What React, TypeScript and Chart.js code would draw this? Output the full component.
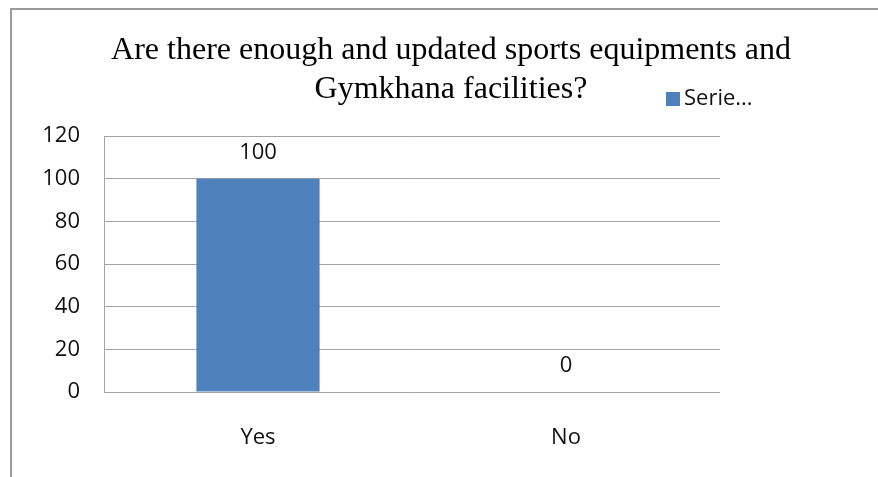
import React, { useEffect, useRef } from "react";
import { Chart, registerables } from "chart.js";

Chart.register(...registerables);

const titleLines = ["Are there enough and updated sports equipments and", "Gymkhana facilities?"];
const categories = ["Yes", "No"];
const seriesName = "Serie...";
const seriesValues = [100, 0];
const yTicks = [0, 20, 40, 60, 80, 100, 120];

const BAR_COLOR = "#4F81BD";
const GRID_COLOR = "#a3a3a3";
const TEXT_COLOR = "#111111";
const SANS = "'Open Sans', 'Noto Sans', sans-serif";

const framePlugin = {
  id: "frame",
  beforeDraw(chart: any) {
    const ctx = chart.ctx;
    ctx.save();
    ctx.fillStyle = "#ffffff";
    ctx.fillRect(0, 0, chart.width, chart.height);
    ctx.strokeStyle = "#9a9a9a";
    ctx.lineWidth = 2;
    ctx.beginPath();
    ctx.moveTo(11, chart.height);
    ctx.lineTo(11, 9);
    ctx.lineTo(chart.width, 9);
    ctx.stroke();
    ctx.restore();
  },
};

const labelsPlugin = {
  id: "valueLabels",
  afterDatasetsDraw(chart: any) {
    const ctx = chart.ctx;
    const meta = chart.getDatasetMeta(0);
    ctx.save();
    ctx.font = `22px ${SANS}`;
    ctx.fillStyle = TEXT_COLOR;
    ctx.textAlign = "center";
    ctx.textBaseline = "middle";
    meta.data.forEach((bar: any, i: number) => {
      ctx.fillText(String(seriesValues[i]), bar.x, bar.y - 26);
    });
    ctx.restore();
  },
};

const legendPlugin = {
  id: "customLegend",
  afterDraw(chart: any) {
    const ctx = chart.ctx;
    ctx.save();
    ctx.fillStyle = BAR_COLOR;
    ctx.fillRect(666, 92, 14, 14);
    ctx.font = `22px ${SANS}`;
    ctx.fillStyle = TEXT_COLOR;
    ctx.textAlign = "left";
    ctx.textBaseline = "middle";
    ctx.fillText(seriesName, 684, 99);
    ctx.restore();
  },
};

export default function App() {
  const canvasRef = useRef<HTMLCanvasElement | null>(null);

  useEffect(() => {
    if (!canvasRef.current) return;
    const chart = new Chart(canvasRef.current, {
      type: "bar",
      data: {
        labels: categories,
        datasets: [
          {
            label: seriesName,
            data: seriesValues,
            backgroundColor: BAR_COLOR,
            borderWidth: 0,
            categoryPercentage: 1,
            barPercentage: 0.4,
            yAxisID: "y",
          },
        ],
      },
      options: {
        responsive: false,
        animation: false,
        layout: { padding: { left: 24, top: 0, right: 0, bottom: 0 } },
        plugins: {
          legend: { display: false },
          tooltip: { enabled: false },
          title: {
            display: true,
            text: titleLines,
            color: "#000000",
            font: { family: "'Liberation Serif', 'Times New Roman', serif", size: 32, weight: "normal", lineHeight: 1.22 },
            padding: { top: 31, bottom: 27 },
          },
        },
        scales: {
          x: {
            grid: { display: false },
            border: { display: false },
            ticks: { color: TEXT_COLOR, font: { family: SANS, size: 22 }, padding: 25 },
            afterFit: (s: any) => {
              s.height = 85;
            },
          },
          y: {
            position: "left",
            min: yTicks[0],
            max: yTicks[yTicks.length - 1],
            afterBuildTicks: (s: any) => {
              s.ticks = yTicks.map((v) => ({ value: v }));
            },
            grid: { color: GRID_COLOR, lineWidth: 1, drawTicks: false },
            border: { display: true, color: GRID_COLOR, width: 1 },
            ticks: { color: TEXT_COLOR, font: { family: SANS, size: 22 }, padding: 24 },
            afterFit: (s: any) => {
              s.width = 80;
            },
          },
          yRight: {
            position: "right",
            display: true,
            grid: { display: false },
            border: { display: false },
            ticks: { display: false },
            afterFit: (s: any) => {
              s.width = 158;
            },
          },
        },
      },
      plugins: [framePlugin, labelsPlugin, legendPlugin],
    });
    return () => chart.destroy();
  }, []);

  return (
    <div style={{ position: "absolute", left: 0, top: 0, width: 878, height: 477, background: "#fff" }}>
      <canvas ref={canvasRef} width={878} height={477} style={{ display: "block" }} />
    </div>
  );
}
